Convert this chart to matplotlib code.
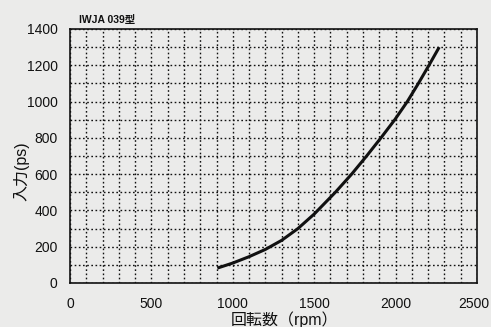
import matplotlib
matplotlib.use("Agg")
import matplotlib.pyplot as plt
import matplotlib.transforms as mtransforms
from matplotlib.ticker import MultipleLocator

plt.rcParams['font.family'] = ['Liberation Sans', 'Noto Sans CJK JP', 'DejaVu Sans']

title = "IWJA 039型"
x_label = "回転数（rpm）"
y_label = "入力(ps)"
x_ticks = [0, 500, 1000, 1500, 2000, 2500]
y_ticks = [0, 200, 400, 600, 800, 1000, 1200, 1400]

rpm = [905, 1000, 1100, 1200, 1300, 1400, 1500, 1630, 1730, 1822, 1910, 1995, 2072, 2140, 2205, 2268]
power = [82, 110, 145, 185, 235, 300, 380, 500, 600, 700, 800, 900, 1000, 1100, 1200, 1300]

bg = "#ebebea"
ink = "#111111"
fig = plt.figure(figsize=(4.91, 3.27), dpi=100, facecolor=bg)
ax = fig.add_axes([0.1426, 0.1346, 0.8289, 0.7768], facecolor=bg)

ax.set_xlim(0, 2500)
ax.set_ylim(0, 1400)
ax.set_xticks(x_ticks)
ax.set_yticks(y_ticks)
ax.xaxis.set_minor_locator(MultipleLocator(100))
ax.yaxis.set_minor_locator(MultipleLocator(100))
ax.grid(which='both', color=ink, linestyle=(0, (1.2, 1.8)), linewidth=1.0)
ax.tick_params(which='both', length=0, labelsize=10, colors=ink)
ax.tick_params(axis='x', pad=10)
ax.tick_params(axis='y', pad=9)
for s in ax.spines.values():
    s.set_color(ink)
    s.set_linewidth(1.2)
ax.set_axisbelow(True)

ax.plot(rpm, power, color=ink, linewidth=2.2, solid_capstyle='butt')

ax.set_xlabel(x_label, fontsize=11.5, color=ink)
ax.xaxis.set_label_coords(0.528, -0.11)
ax.set_ylabel(y_label, fontsize=11.5, color=ink)
ax.yaxis.set_label_coords(-0.10, 0.44)

# nudge the last x tick label slightly left so it stays inside the figure
last = ax.get_xticklabels()[-1]
last.set_transform(last.get_transform() + mtransforms.ScaledTranslation(-3 / 100, 0, fig.dpi_scale_trans))

fig.text(79 / 491, 1 - 20 / 327, title, fontsize=7.5, fontweight='bold',
         color=ink, ha='left', va='center')

fig.savefig("out.png", dpi=100, facecolor=bg)
